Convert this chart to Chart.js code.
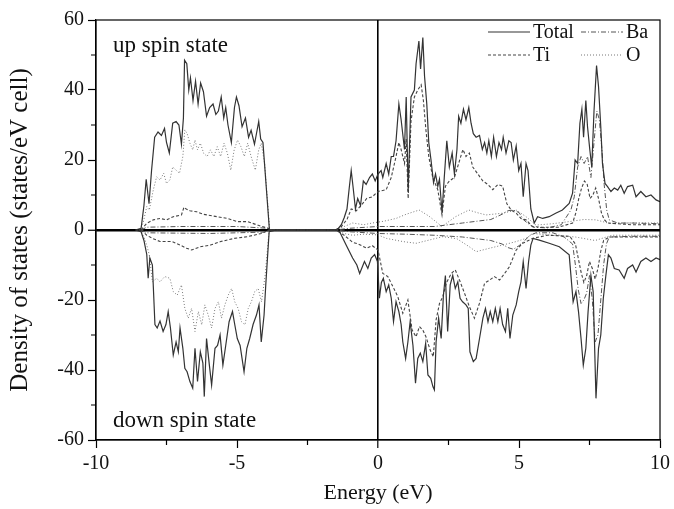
<!DOCTYPE html>
<html>
<head>
<meta charset="utf-8">
<script src="https://cdn.jsdelivr.net/npm/chart.js@4.4.0/dist/chart.umd.min.js"></script>
<style>
  html, body { margin: 0; padding: 0; background: #fff; }
  canvas { display: block; }
</style>
</head>
<body>
<canvas id="dos" width="674" height="509"></canvas>
<script>
// --- DATA (energy in eV, DOS in states/eV cell) ---
const seriesNames = ['Total', 'Ti', 'Ba', 'O'];
const xTicks = [-10, -5, 0, 5, 10];
const yTicks = [-60, -40, -20, 0, 20, 40, 60];

const totalUp = [
  [-8.6,0],[-8.4,0.5],[-8.3,7],[-8.22,14.5],[-8.12,7.5],[-8.03,17],[-7.92,26.5],[-7.8,28],[-7.68,27],[-7.57,29],
  [-7.5,25],[-7.4,22],[-7.28,30.5],[-7.16,31],[-7.06,30],[-6.97,24.5],[-6.9,32],[-6.86,48.5],[-6.78,47.5],[-6.71,40],
  [-6.65,43.5],[-6.56,37],[-6.47,42.5],[-6.38,36],[-6.29,42],[-6.19,39.5],[-6.08,32.5],[-5.97,35],[-5.85,36],[-5.75,33],
  [-5.66,34],[-5.56,38],[-5.47,32],[-5.4,35],[-5.32,30],[-5.2,25],[-5.09,35],[-5.02,38],[-4.93,35.5],[-4.82,29.5],
  [-4.7,32],[-4.59,26.5],[-4.5,28.5],[-4.38,24.5],[-4.23,31],[-4.16,26],[-4.08,25],[-3.85,0],[-3.6,0],
  [-1.5,0],[-1.4,0.5],[-1.3,1.5],[-1.2,3.5],[-1.1,6],[-1.02,12],[-0.95,17],[-0.88,12],[-0.8,6],[-0.72,9],
  [-0.62,7],[-0.52,14],[-0.42,13],[-0.3,15],[-0.2,16],[-0.1,14],[0,16],[0.11,17],[0.17,15],[0.29,19],
  [0.38,16],[0.47,21],[0.55,21],[0.64,25.5],[0.74,36],[0.82,31.5],[0.94,23],[1.0,38],[1.07,11],[1.17,38],
  [1.29,40],[1.35,47.5],[1.45,54],[1.51,46],[1.59,55],[1.65,44],[1.73,36],[1.8,25],[1.88,20],[1.97,13.5],
  [2.04,16],[2.12,12.5],[2.18,14.5],[2.27,5],[2.35,15],[2.44,25.5],[2.53,18],[2.63,22],[2.71,16],[2.8,23],
  [2.86,32.5],[2.94,30.5],[3.03,34.5],[3.12,31.5],[3.22,35],[3.3,30.5],[3.38,27.5],[3.48,26.5],[3.6,27],[3.7,23],
  [3.78,25],[3.86,22],[3.93,25.5],[4.02,21],[4.1,26.5],[4.2,21],[4.29,25],[4.38,23],[4.44,26.5],[4.54,22],
  [4.64,25.5],[4.72,25],[4.8,20],[4.9,24],[4.99,17],[5.07,19],[5.15,9.5],[5.25,19],[5.32,17],[5.42,6],
  [5.54,2],[5.66,3.8],[5.84,3.3],[6.07,3.8],[6.3,4.8],[6.54,5.7],[6.78,7.6],[6.9,10.5],[6.99,20],[7.08,19],
  [7.16,30.5],[7.23,34.5],[7.29,26.5],[7.37,37],[7.43,29.5],[7.51,23],[7.58,18],[7.66,34],[7.75,47],[7.82,41],
  [7.9,29.5],[7.96,19],[8.05,13.3],[8.14,12.4],[8.26,11],[8.38,12],[8.5,11.4],[8.61,12.8],[8.73,10.5],[8.85,12.4],
  [9.03,12.8],[9.15,9.5],[9.32,11],[9.5,9.5],[9.68,10],[9.86,8.6],[10,8.1]
];
const tiUp = [
  [-8.4,0],[-8.3,1],[-8.2,1.9],[-7.97,2.9],[-7.73,3.3],[-7.5,2.9],[-7.26,3.8],[-6.97,4.3],[-6.88,6.5],[-6.8,6],
  [-6.67,5.5],[-6.43,5.2],[-6.2,4.5],[-6.06,4.3],[-5.7,3.8],[-5.34,3.3],[-4.98,2.4],[-4.62,2.4],[-4.27,1.4],[-3.9,0.5],[-3.8,0],
  [-1.5,0],[-1.3,1],[-1.1,3],[-0.95,6],[-0.77,5.5],[-0.6,7],[-0.4,9],[-0.2,9.5],[0,11],[0.29,11.5],
  [0.47,15],[0.64,21],[0.74,25],[0.82,23],[0.94,19],[1.0,26],[1.07,9],[1.17,31],[1.29,38],[1.41,40],
  [1.53,41.5],[1.61,37],[1.7,28.5],[1.8,21],[1.94,15],[2.12,11.5],[2.27,4.3],[2.39,12.5],[2.53,14],[2.71,15],
  [2.86,19],[3.01,23],[3.12,21],[3.24,22],[3.36,18],[3.54,16],[3.72,14],[3.9,13],[4.07,11.5],[4.25,13],
  [4.42,12.5],[4.57,7.5],[4.72,5.7],[4.9,4.8],[5.07,3.3],[5.25,2.9],[5.48,1],[5.8,0.8],[6.4,0.8],[6.9,2],
  [7.02,5],[7.12,9],[7.22,12],[7.32,14],[7.42,13],[7.52,9],[7.62,10],[7.72,12],[7.82,9],[7.92,5],
  [8.02,3],[8.14,2],[8.32,1.9],[9,1.5],[10,1.5]
];
const baUp = [
  [-8.4,0],[-8.2,0.8],[-7,1],[-5,1],[-3.9,0.5],[-3.8,0],
  [-1.5,0],[-1,0.5],[0,1],[1,1],[2,1],[2.5,1.5],[3,2],[3.5,2.5],[4,3],[4.4,4.5],
  [4.6,5.5],[4.8,5.7],[5.0,5],[5.15,3],[5.3,2],[5.5,0.8],[6.0,0.6],[6.5,1.5],[6.84,5.7],[6.96,9.5],
  [7.08,18],[7.2,21],[7.31,19],[7.43,21],[7.55,15],[7.66,25],[7.76,34],[7.85,31.5],[7.94,23],[8.02,13],
  [8.11,5.7],[8.2,2.9],[8.5,2],[9,2],[10,1.8]
];
const oUp = [
  [-8.45,0],[-8.33,2],[-8.2,6.7],[-8.11,5.7],[-7.97,11.4],[-7.85,15.2],[-7.73,14.3],[-7.6,16.2],[-7.5,13.3],[-7.38,14.3],
  [-7.28,18],[-7.16,17.1],[-7.04,16.2],[-6.92,21],[-6.85,28.6],[-6.77,27.6],[-6.67,24.8],[-6.57,22.9],[-6.49,25.7],[-6.4,22.9],
  [-6.3,24.8],[-6.18,21.9],[-6.06,21],[-5.94,22.9],[-5.82,21],[-5.7,23.8],[-5.58,21],[-5.46,24.8],[-5.34,21.9],[-5.22,17.1],
  [-5.1,22.9],[-4.98,25.7],[-4.86,23.8],[-4.74,21],[-4.62,24.8],[-4.5,21],[-4.35,17.1],[-4.23,22.9],[-4.14,24.8],[-4.02,19],[-3.84,0],
  [-1.5,0],[-1.2,1],[-0.9,2],[-0.5,1.5],[-0.2,2],[0.2,2.5],[0.64,3.3],[1.0,4.5],[1.46,5.7],[1.8,4],
  [2.27,1],[2.75,3.8],[3.22,5.7],[3.5,5],[3.83,4.3],[4.42,4.8],[4.9,5.7],[5.25,3.8],[5.6,1.4],[6.2,1.8],
  [6.78,2.4],[7.3,3],[7.73,2.9],[8.2,1.9],[9,2],[10,2]
];

const totalDown = [
  [-8.6,0],[-8.4,-0.5],[-8.3,-3],[-8.2,-7],[-8.15,-13.8],[-8.09,-8],[-8.0,-10],[-7.91,-27],[-7.83,-28],[-7.73,-26],
  [-7.62,-29],[-7.52,-27],[-7.44,-23.3],[-7.36,-28],[-7.26,-35.7],[-7.16,-32],[-7.08,-34.8],[-7.02,-28],[-6.92,-33.8],[-6.85,-39.5],
  [-6.77,-40.5],[-6.67,-43.3],[-6.57,-45.2],[-6.49,-33.8],[-6.4,-43.3],[-6.3,-34.8],[-6.21,-38],[-6.16,-47.6],[-6.08,-31],[-5.98,-38.6],
  [-5.9,-44.3],[-5.78,-33.8],[-5.69,-33],[-5.6,-30],[-5.5,-38.6],[-5.4,-33],[-5.28,-26.2],[-5.16,-23.3],[-5.08,-27],[-4.99,-31],
  [-4.89,-33],[-4.75,-40.5],[-4.65,-33.8],[-4.55,-31],[-4.43,-27],[-4.31,-24.3],[-4.22,-21.4],[-4.14,-32],[-4.04,-24.3],[-3.98,-15.7],
  [-3.86,-0.5],[-3.6,0],
  [-1.5,0],[-1.36,-0.5],[-1.13,-4.3],[-0.9,-8],[-0.75,-10],[-0.65,-12.4],[-0.48,-9],[-0.36,-11],[-0.24,-8],[-0.12,-7],
  [-0.02,-9],[0.05,-19.5],[0.12,-15],[0.19,-13.8],[0.29,-17.6],[0.38,-15.7],[0.47,-19.5],[0.55,-26.2],[0.64,-20.5],[0.74,-23.3],
  [0.82,-27],[0.88,-32],[0.98,-36.7],[1.06,-32],[1.14,-26.2],[1.24,-33],[1.33,-43.8],[1.41,-36.7],[1.5,-35.2],[1.59,-37.6],
  [1.69,-32.4],[1.77,-41.4],[1.87,-42.4],[1.95,-44.8],[2.0,-45.7],[2.06,-32],[2.15,-25.2],[2.24,-31],[2.32,-18.6],[2.39,-13],
  [2.47,-29],[2.56,-15.7],[2.65,-13],[2.74,-16.7],[2.83,-14.8],[2.91,-19.5],[3.0,-20.5],[3.12,-21.4],[3.2,-22.4],[3.26,-34.8],
  [3.38,-37.6],[3.48,-36.7],[3.6,-31],[3.72,-25.2],[3.81,-22.4],[3.9,-26.2],[3.98,-23.3],[4.07,-26.2],[4.16,-22.4],[4.25,-26.2],
  [4.33,-22.4],[4.42,-27],[4.52,-29],[4.6,-22.4],[4.68,-31],[4.78,-24.3],[4.9,-21.4],[4.99,-17.6],[5.07,-14.8],[5.15,-9],
  [5.25,-16.7],[5.34,-9],[5.42,-4.3],[5.5,-2.4],[5.72,-2.9],[6.07,-3.8],[6.43,-4.8],[6.78,-7.1],[6.92,-20.5],[7.02,-17.6],
  [7.11,-23.3],[7.2,-31],[7.28,-38.6],[7.37,-33.8],[7.45,-23.3],[7.55,-13],[7.63,-17.6],[7.73,-48.1],[7.82,-33.8],[7.9,-30],
  [7.99,-19.5],[8.08,-13],[8.17,-7.1],[8.26,-8],[8.38,-11],[8.55,-11.4],[8.73,-13.8],[8.85,-11],[9.03,-10],[9.15,-12],
  [9.32,-9],[9.5,-8],[9.68,-9],[9.86,-8],[10,-8.5]
];
const tiDown = [
  [-8.4,0],[-8.2,-1.5],[-8.0,-2.4],[-7.73,-3.3],[-7.3,-3.3],[-7.02,-4.3],[-6.79,-5.2],[-6.61,-5.7],[-6.3,-4.8],[-5.94,-4.3],
  [-5.58,-3.3],[-5.1,-2.4],[-4.62,-1.9],[-4.14,-1],[-3.85,0],
  [-1.5,0],[-1.2,-1.5],[-0.9,-3.5],[-0.7,-4],[-0.4,-5.2],[-0.2,-4.5],[0,-5.7],[0.17,-12.4],[0.35,-13.3],[0.53,-16.2],
  [0.7,-19],[0.88,-23.8],[1.06,-20],[1.21,-28.6],[1.35,-30.5],[1.47,-27.6],[1.59,-28.6],[1.7,-30.5],[1.85,-34.3],[1.96,-36.2],
  [2.06,-25.7],[2.18,-21],[2.3,-19],[2.42,-15.2],[2.6,-12.4],[2.74,-11.4],[2.89,-14.3],[3.07,-18.1],[3.24,-21.9],[3.42,-25.2],
  [3.6,-20.9],[3.78,-15.2],[3.96,-14.3],[4.13,-13.3],[4.31,-14.3],[4.49,-12.4],[4.66,-10.5],[4.9,-5.7],[5.13,-3.8],[5.48,-2.4],
  [6,-1.5],[6.8,-1.8],[7.0,-4],[7.1,-8],[7.2,-12],[7.3,-15],[7.4,-13],[7.5,-9],[7.6,-11],[7.7,-14],
  [7.8,-11],[7.9,-6],[8.0,-3],[8.2,-2],[9,-2],[10,-2]
];
const baDown = [
  [-8.4,0],[-8.2,-0.8],[-6,-1],[-4,-0.6],[-3.85,0],
  [-1.5,0],[-1,-0.5],[0,-1],[1,-1.2],[2,-1.5],[3,-2],[3.5,-2.5],[4,-3],[4.4,-4],[4.6,-5],
  [4.8,-5.5],[5.0,-4.5],[5.2,-3],[5.4,-1.5],[5.6,-0.8],[6.2,-0.8],[6.6,-2],[6.9,-4],[7.0,-10],[7.1,-17],
  [7.2,-21],[7.3,-20],[7.4,-18],[7.5,-13],[7.6,-20],[7.7,-32],[7.8,-30],[7.9,-20],[8.0,-10],[8.1,-4],
  [8.2,-2],[9,-1.8],[10,-1.8]
];
const oDown = [
  [-8.45,0],[-8.3,-2],[-8.2,-4.3],[-8.11,-7.1],[-8.0,-14.8],[-7.85,-13.8],[-7.73,-14.8],[-7.56,-13.3],[-7.38,-13.8],[-7.26,-17.6],
  [-7.12,-18.6],[-6.97,-15.7],[-6.85,-22.4],[-6.73,-25.2],[-6.61,-22.4],[-6.49,-29],[-6.37,-23.3],[-6.25,-27.1],[-6.14,-21.4],[-6.02,-24.3],
  [-5.9,-28],[-5.78,-22.4],[-5.66,-20.5],[-5.55,-25.2],[-5.43,-21.4],[-5.31,-18.6],[-5.19,-16.7],[-5.08,-20.5],[-4.96,-22.4],[-4.84,-26.2],
  [-4.72,-27.1],[-4.6,-22.4],[-4.49,-20.5],[-4.37,-17.6],[-4.25,-16.7],[-4.13,-20.5],[-4.0,-12.8],[-3.86,0],
  [-1.5,0],[-1.2,-1],[-0.9,-1.5],[-0.5,-1.2],[0,-1.4],[0.3,-2.4],[0.88,-3.3],[1.35,-3.8],[1.8,-2.9],[2.3,-1.9],
  [2.8,-2.5],[3.24,-4.8],[3.48,-6.2],[3.96,-5.2],[4.42,-4.3],[4.9,-3.3],[5.25,-2.4],[5.48,-1],[6.2,-1.5],[7,-2],
  [7.7,-3],[8.3,-1.5],[10,-1.5]
];

// --- STYLES ---
const FONT = "'Liberation Serif', 'Times New Roman', serif";
const lineStyles = {
  Total: { color: '#333333', width: 1.2, dash: [] },
  Ti:    { color: '#444444', width: 1.1, dash: [3, 2] },
  Ba:    { color: '#555555', width: 1.0, dash: [5, 2, 1, 2] },
  O:     { color: '#777777', width: 1.0, dash: [1, 2] }
};
const upSeries = { Total: totalUp, Ti: tiUp, Ba: baUp, O: oUp };
const downSeries = { Total: totalDown, Ti: tiDown, Ba: baDown, O: oDown };

function makeDataset(name, points, spin) {
  const s = lineStyles[name];
  return {
    label: name + ' ' + spin,
    data: points.map(p => ({ x: p[0], y: p[1] })),
    borderColor: s.color,
    borderWidth: s.width,
    borderDash: s.dash,
    pointRadius: 0,
    tension: 0,
    fill: false
  };
}

const datasets = [];
seriesNames.forEach(n => {
  datasets.push(makeDataset(n, upSeries[n], 'up'));
  datasets.push(makeDataset(n, downSeries[n], 'down'));
});

// --- FRAME, MINOR TICKS, TEXT AND LEGEND ---
const decorations = {
  id: 'decorations',
  afterDraw(chart) {
    const { ctx, chartArea: a, scales: { x, y } } = chart;
    ctx.save();
    ctx.strokeStyle = '#000';
    ctx.lineWidth = 1.2;
    ctx.setLineDash([]);

    // minor ticks
    ctx.beginPath();
    x.ticks.filter(t => !xTicks.includes(t.value)).forEach(t => {
      const px = x.getPixelForValue(t.value);
      ctx.moveTo(px, a.bottom); ctx.lineTo(px, a.bottom + 5);
    });
    y.ticks.filter(t => !yTicks.includes(t.value)).forEach(t => {
      const py = y.getPixelForValue(t.value);
      ctx.moveTo(a.left, py); ctx.lineTo(a.left - 5, py);
    });
    ctx.stroke();

    // box
    ctx.strokeRect(a.left, a.top, a.right - a.left, a.bottom - a.top);

    // spin labels
    ctx.fillStyle = '#111';
    ctx.font = '23px ' + FONT;
    ctx.textBaseline = 'alphabetic';
    ctx.textAlign = 'left';
    ctx.fillText('up spin state', a.left + 17, a.top + 32);
    ctx.fillText('down spin state', a.left + 17, a.bottom - 13);

    // legend (2 x 2)
    const cells = [
      { name: 'Total', x: a.right - 172, y: a.top + 12 },
      { name: 'Ba',    x: a.right - 79,  y: a.top + 12 },
      { name: 'Ti',    x: a.right - 172, y: a.top + 35 },
      { name: 'O',     x: a.right - 79,  y: a.top + 35 }
    ];
    ctx.font = '20px ' + FONT;
    ctx.textBaseline = 'middle';
    cells.forEach(c => {
      const s = lineStyles[c.name];
      ctx.strokeStyle = s.color;
      ctx.lineWidth = s.width;
      ctx.setLineDash(s.dash);
      ctx.beginPath();
      ctx.moveTo(c.x, c.y); ctx.lineTo(c.x + 42, c.y);
      ctx.stroke();
      ctx.fillText(c.name, c.x + 45, c.y + 1);
    });
    ctx.restore();
  }
};

// --- CHART ---
new Chart(document.getElementById('dos'), {
  type: 'line',
  data: { datasets },
  plugins: [decorations],
  options: {
    responsive: false,
    animation: false,
    events: [],
    layout: { padding: { top: 20, right: 13, left: 0, bottom: 0 } },
    plugins: { legend: { display: false }, tooltip: { enabled: false } },
    scales: {
      x: {
        type: 'linear',
        min: -10, max: 10,
        afterFit: s => { s.height = 69; },
        ticks: {
          stepSize: 2.5,
          autoSkip: false,
          maxRotation: 0,
          color: '#111',
          padding: 4,
          font: { family: FONT, size: 20 },
          callback: v => xTicks.includes(v) ? String(v) : ''
        },
        grid: {
          drawOnChartArea: true,
          tickLength: 8,
          tickWidth: 1.2,
          color: c => (c.tick && c.tick.value === 0) ? '#000' : 'rgba(0,0,0,0)',
          lineWidth: c => (c.tick && c.tick.value === 0) ? 1.6 : 1,
          tickColor: c => (c.tick && xTicks.includes(c.tick.value)) ? '#000' : 'rgba(0,0,0,0)'
        },
        border: { display: true, color: '#000', width: 1.2 },
        title: {
          display: true,
          text: 'Energy (eV)',
          color: '#111',
          font: { family: FONT, size: 22 },
          padding: { top: 0, bottom: 3 }
        }
      },
      y: {
        type: 'linear',
        min: -60, max: 60,
        afterFit: s => { s.width = 96; },
        ticks: {
          stepSize: 10,
          autoSkip: false,
          color: '#111',
          padding: 4,
          font: { family: FONT, size: 20 },
          callback: v => yTicks.includes(v) ? String(v) : ''
        },
        grid: {
          drawOnChartArea: true,
          tickLength: 8,
          tickWidth: 1.2,
          color: c => (c.tick && c.tick.value === 0) ? '#000' : 'rgba(0,0,0,0)',
          lineWidth: c => (c.tick && c.tick.value === 0) ? 2.5 : 1,
          tickColor: c => (c.tick && yTicks.includes(c.tick.value)) ? '#000' : 'rgba(0,0,0,0)'
        },
        border: { display: true, color: '#000', width: 1.2 },
        title: {
          display: true,
          text: 'Density of states (states/eV cell)',
          color: '#111',
          font: { family: FONT, size: 25 },
          padding: { top: 5, bottom: 0 }
        }
      }
    }
  }
});
</script>
</body>
</html>
